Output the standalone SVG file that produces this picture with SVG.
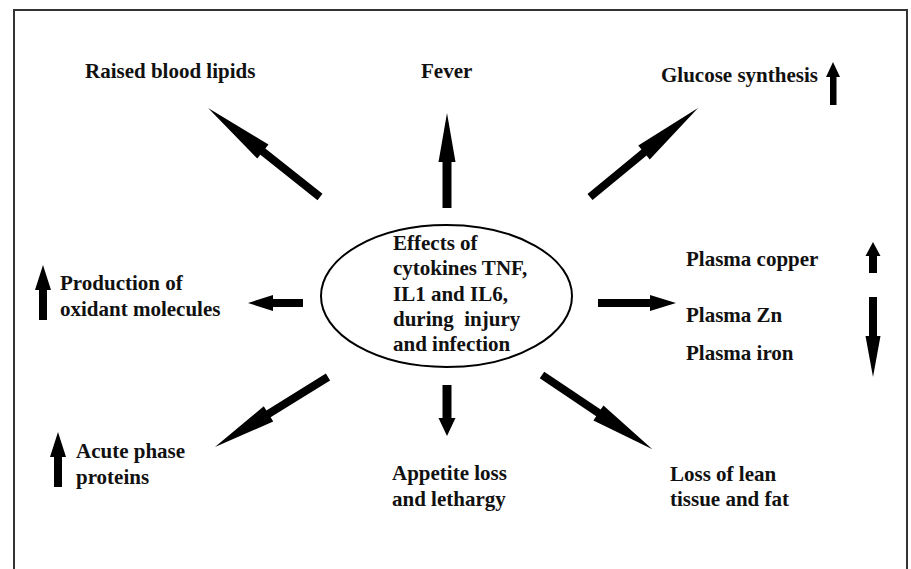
<svg xmlns="http://www.w3.org/2000/svg" width="911" height="569" viewBox="0 0 911 569">
<style>
.t{font-family:"Liberation Serif","Times New Roman",serif;font-weight:bold;font-size:21px;fill:#111}
.a{fill:#000}
</style>
<rect x="0" y="0" width="911" height="569" fill="#fff"/>
<g id="frame" fill="none" stroke="#333" stroke-width="2">
<path d="M14,575 V10 H907 V575"/>
</g>
<g id="center">
<ellipse cx="446.5" cy="296" rx="125.5" ry="71" fill="#fff" stroke="#000" stroke-width="2"/>
<text class="t" x="393" y="250">Effects of</text>
<text class="t" x="393" y="275">cytokines TNF,</text>
<text class="t" x="393" y="301">IL1 and IL6,</text>
<text class="t" x="393" y="326" xml:space="preserve">during  injury</text>
<text class="t" x="393" y="351">and infection</text>
</g>
<g id="connectors">
<polygon class="a" transform="translate(320,197) rotate(-141.5)" points="0,-4 73,-4 73,-9 143,0 73,9 73,4 0,4"/>
<polygon class="a" transform="translate(590,197) rotate(-39.5)" points="0,-4 70,-4 70,-9 140,0 70,9 70,4 0,4"/>
<polygon class="a" transform="translate(447,208) rotate(-90)" points="0,-4.5 46,-4.5 46,-8.5 95,0 46,8.5 46,4.5 0,4.5"/>
<polygon class="a" transform="translate(303,303) rotate(180)" points="0,-4 30,-4 30,-8 55,0 30,8 30,4 0,4"/>
<polygon class="a" transform="translate(598,303)" points="0,-4 52,-4 52,-8 78,0 52,8 52,4 0,4"/>
<polygon class="a" transform="translate(328,377) rotate(148.2)" points="0,-4 70,-4 70,-9 133,0 70,9 70,4 0,4"/>
<polygon class="a" transform="translate(447,385) rotate(90)" points="0,-4.5 33,-4.5 33,-8.5 51,0 33,8.5 33,4.5 0,4.5"/>
<polygon class="a" transform="translate(542,375) rotate(33.9)" points="0,-4 68,-4 68,-9 133,0 68,9 68,4 0,4"/>
</g>
<g id="n-lipids"><text class="t" x="85" y="78">Raised blood lipids</text></g>
<g id="n-fever"><text class="t" x="421" y="78">Fever</text></g>
<g id="n-glucose">
<text class="t" x="661" y="82">Glucose synthesis</text>
<polygon class="a" points="830,105 830,77 826,77 833,62 840,77 836.5,77 836.5,105"/>
</g>
<g id="n-plasma">
<text class="t" x="686" y="266">Plasma copper</text>
<text class="t" x="686" y="322">Plasma Zn</text>
<text class="t" x="686" y="360">Plasma iron</text>
<polygon class="a" points="869,273 869,256 865.5,256 873,242 880.5,256 877,256 877,273"/>
<polygon class="a" points="869,297 877,297 877,336 880.5,336 873,377 865.5,336 869,336"/>
</g>
<g id="n-oxidant">
<text class="t" x="60" y="290">Production of</text>
<text class="t" x="60" y="316">oxidant molecules</text>
<polygon class="a" points="39,320 39,290 35,290 43,265 51,290 47,290 47,320"/>
</g>
<g id="n-acute">
<text class="t" x="76" y="458">Acute phase</text>
<text class="t" x="76" y="484">proteins</text>
<polygon class="a" points="54,487 54,457 50,457 58,432 66,457 62,457 62,487"/>
</g>
<g id="n-appetite">
<text class="t" x="392" y="480">Appetite loss</text>
<text class="t" x="392" y="506">and lethargy</text>
</g>
<g id="n-lean">
<text class="t" x="670" y="481">Loss of lean</text>
<text class="t" x="670" y="506">tissue and fat</text>
</g>
</svg>
